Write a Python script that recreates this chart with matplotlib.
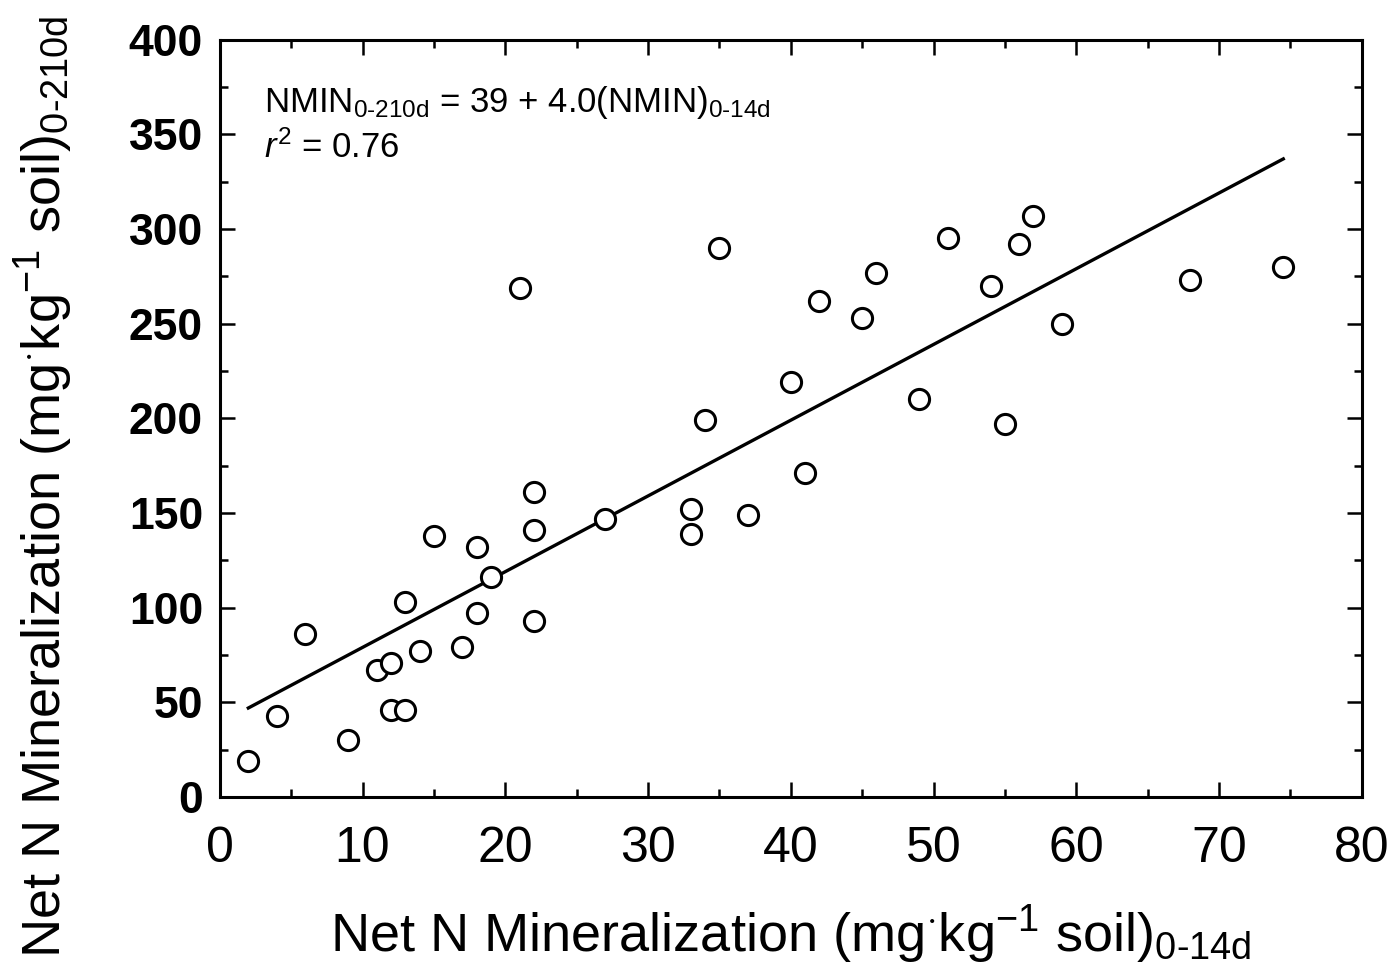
import matplotlib
matplotlib.use("Agg")
import matplotlib.pyplot as plt

# data (mg kg-1 soil)
nmin_14d = [2, 4, 6, 9, 11, 12, 12, 13, 13, 14, 15, 17, 18, 18, 19, 21, 22, 22, 22,
            27, 33, 33, 34, 35, 37, 40, 41, 42, 45, 46, 49, 51, 54, 55, 56, 57, 59,
            68, 74.5]
nmin_210d = [19, 43, 86, 30, 67, 71, 46, 46, 103, 77, 138, 79, 132, 97, 116, 269, 161, 141, 93,
             147, 152, 139, 199, 290, 149, 219, 171, 262, 253, 277, 210, 295, 270, 197, 292, 307, 250,
             273, 280]

# regression line endpoints
line_x = [2, 74.5]
line_y = [47, 337]

plt.rcParams['font.family'] = ['Liberation Sans', 'DejaVu Sans']
plt.rcParams['mathtext.fontset'] = 'custom'
plt.rcParams['mathtext.rm'] = 'Liberation Sans'
plt.rcParams['mathtext.it'] = 'Liberation Sans:italic'
plt.rcParams['mathtext.bf'] = 'Liberation Sans:bold'

fig = plt.figure(figsize=(13.91, 9.76), dpi=100)
ax = fig.add_axes([0.158, 0.1834, 0.821, 0.776])

ax.plot(line_x, line_y, color='black', linewidth=2.4)
ax.plot(nmin_14d, nmin_210d, linestyle='none', marker='o', markersize=14.5,
        markerfacecolor='white', markeredgecolor='black', markeredgewidth=2.2)

ax.set_xlim(0, 80)
ax.set_ylim(0, 400)
ax.set_xticks(range(0, 81, 10))
ax.set_xticks(range(5, 80, 10), minor=True)
ax.set_yticks(range(0, 401, 50))
ax.set_yticks(range(25, 400, 50), minor=True)

ax.tick_params(which='both', direction='in', top=True, right=True, width=1.8)
ax.tick_params(which='major', length=11)
ax.tick_params(which='minor', length=6)
ax.tick_params(axis='x', labelsize=36, pad=21)
ax.tick_params(axis='y', labelsize=32, pad=12)
for lbl in ax.get_yticklabels():
    lbl.set_fontweight('bold')
for s in ax.spines.values():
    s.set_linewidth(2.2)

ax.set_xlabel(r'Net N Mineralization (mg$^{\cdot}$kg$^{\mathregular{-1}}$ soil)$_{\mathregular{0\text{-}14d}}$',
              fontsize=39)
ax.xaxis.set_label_coords(0.5, -0.141)
ax.set_ylabel(r'Net N Mineralization (mg$^{\cdot}$kg$^{\mathregular{-1}}$ soil)$_{\mathregular{0\text{-}210d}}$',
              fontsize=39)
ax.yaxis.set_label_coords(-0.127, 0.41)

ax.text(0.039, 0.904, r'NMIN$_{\mathregular{0\text{-}210d}}$ = 39 + 4.0(NMIN)$_{\mathregular{0\text{-}14d}}$',
        transform=ax.transAxes, fontsize=25, va='baseline', ha='left')
ax.text(0.039, 0.844, r'$\it{r}^{\mathregular{2}}$ = 0.76',
        transform=ax.transAxes, fontsize=25, va='baseline', ha='left')

plt.savefig('out.png', dpi=100)
plt.close()
